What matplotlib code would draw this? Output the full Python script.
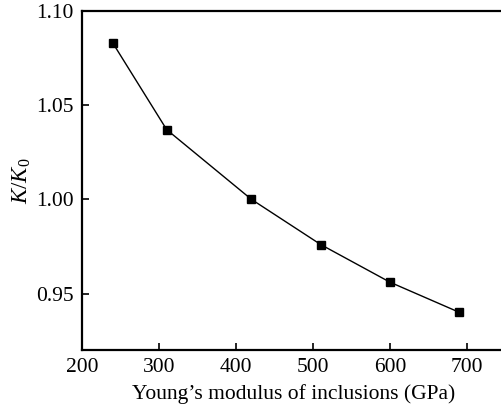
import matplotlib
matplotlib.use("Agg")
import matplotlib.pyplot as plt

# Daten aus der Abbildung
modulus = [240, 310, 420, 510, 600, 690]
k_ratio = [1.083, 1.037, 1.000, 0.976, 0.956, 0.940]
x_ticks = [200, 300, 400, 500, 600, 700]
y_ticks = [0.95, 1.00, 1.05, 1.10]

plt.rcParams["font.family"] = "Liberation Serif"
plt.rcParams["mathtext.fontset"] = "custom"
plt.rcParams["mathtext.rm"] = "Liberation Serif"
plt.rcParams["mathtext.it"] = "Liberation Serif:italic"

fig = plt.figure(figsize=(5.01, 4.12), dpi=100)
ax = fig.add_axes([82 / 501, 1 - 350 / 412, 423.5 / 501, 339 / 412])

ax.plot(modulus, k_ratio, color="black", linewidth=1.0,
        marker="s", markersize=6, markerfacecolor="black", markeredgecolor="black")

ax.set_xlim(200, 750)
ax.set_ylim(0.92, 1.10)
ax.set_xticks(x_ticks)
ax.set_yticks(y_ticks)
ax.set_yticklabels([f"{v:.2f}" for v in y_ticks])
ax.tick_params(direction="in", length=5, width=1.2, labelsize=15.5, pad=6)
for s in ax.spines.values():
    s.set_linewidth(1.6)

ax.set_xlabel("Young\u2019s modulus of inclusions (GPa)", fontsize=15.5, labelpad=5)
ax.set_ylabel(r"$K/K_{\mathrm{0}}$", fontsize=16.5, labelpad=2)

fig.savefig("out.png", dpi=100)
